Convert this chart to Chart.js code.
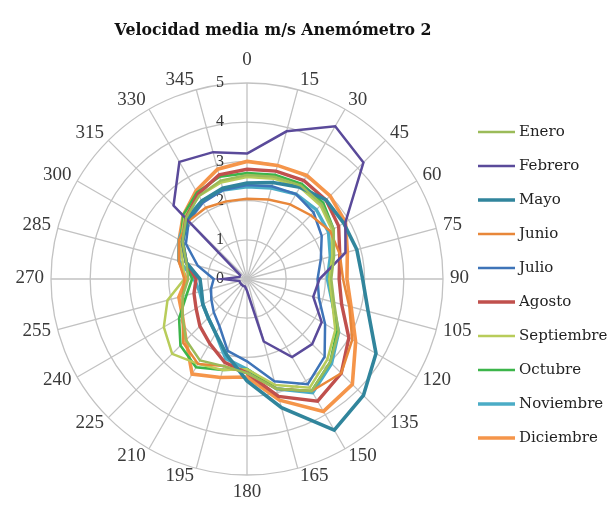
<!DOCTYPE html>
<html lang="es">
<head>
<meta charset="utf-8">
<title>Velocidad media m/s Anemómetro 2</title>
<script src="https://cdn.jsdelivr.net/npm/chart.js@4.4.1/dist/chart.umd.min.js"></script>
<style>
    html, body { margin: 0; padding: 0; background: #fff; }
    #wrap { width: 615px; height: 505px; }
</style>
</head>
<body>
<div id="wrap"><canvas id="chartRadar" width="615" height="505"></canvas></div>
<script>
// ── Data (m/s per wind direction) ─────────────────────────────────────────────
const TITLE      = 'Velocidad media m/s Anemómetro 2';
const DIRECTIONS = ['0','15','30','45','60','75','90','105','120','135','150','165',
                    '180','195','210','225','240','255','270','285','300','315','330','345'];
const TICKS      = [0, 1, 2, 3, 4, 5];

const MONTHS = ['Enero','Febrero','Mayo','Junio','Julio','Agosto','Septiembre','Octubre','Noviembre','Diciembre'];

const enero      = [2.65,2.7,2.75,2.7,2.55,2.3,2.15,2.3,2.7,3.0,3.3,2.9,2.4,2.3,2.4,2.2,1.9,1.7,1.5,1.6,1.9,2.2,2.45,2.6];
const febrero    = [3.2,3.9,4.5,4.2,2.9,2.6,1.85,1.75,2.2,2.35,2.3,1.65,0.3,0.2,0.2,0.2,0.2,0.2,0.6,0.2,0.2,2.65,3.45,3.35];
const mayo       = [2.45,2.55,2.7,2.85,2.85,2.9,2.95,3.2,3.8,4.2,4.45,3.4,2.6,2.0,1.6,1.4,1.3,1.2,1.2,1.6,1.9,2.15,2.3,2.4];
const junio      = [2.05,2.1,2.2,2.3,2.45,2.45,2.45,2.7,3.1,3.4,3.3,2.9,2.4,2.3,2.5,2.3,1.9,1.7,1.6,1.8,2.0,2.1,2.1,2.05];
const julio      = [2.4,2.45,2.5,2.4,2.2,1.95,1.8,1.9,2.3,2.8,3.1,2.7,2.1,1.9,1.4,1.2,1.05,0.95,0.85,1.3,1.8,2.1,2.25,2.35];
const agosto     = [2.8,2.85,2.9,2.85,2.7,2.45,2.35,2.5,3.0,3.4,3.6,3.1,2.4,2.2,1.9,1.7,1.5,1.4,1.3,1.6,1.9,2.2,2.5,2.75];
const septiembre = [2.6,2.65,2.7,2.65,2.5,2.25,2.1,2.25,2.6,2.9,3.2,2.8,2.3,2.4,2.5,2.7,2.45,2.1,1.6,1.7,1.95,2.25,2.45,2.55];
const octubre    = [2.7,2.75,2.8,2.75,2.55,2.25,2.1,2.25,2.65,3.0,3.3,2.9,2.3,2.4,2.6,2.4,2.0,1.6,1.4,1.6,1.95,2.3,2.55,2.7];
const noviembre  = [2.35,2.4,2.5,2.5,2.4,2.2,2.05,2.25,2.7,3.05,3.35,2.9,2.3,2.1,1.6,1.4,1.3,1.25,1.35,1.8,2.0,2.2,2.3,2.35];
const diciembre  = [3.0,3.0,3.05,3.0,2.9,2.65,2.55,2.75,3.2,3.8,3.9,3.2,2.5,2.6,2.8,2.2,1.9,1.8,1.55,1.8,2.0,2.3,2.6,2.9];

const SERIES = [enero, febrero, mayo, junio, julio, agosto, septiembre, octubre, noviembre, diciembre];

// ── Styles ────────────────────────────────────────────────────────────────────
const COLORS = ['#9bbb59','#5a4a9a','#31859c','#e8873a','#3e74b8',
                '#c0504d','#b8cc5a','#3cb54a','#4bacc6','#f5954a'];
const WIDTHS = [2.5, 2.5, 3.6, 2.5, 2.5, 3.4, 2.5, 2.6, 3.4, 3.6];
const SERIF  = '"DejaVu Serif", "Liberation Serif", serif';
const TIMES  = '"Liberation Serif", serif';

// ── Plugins: title, direction labels, value labels, legend ───────────────────
const titlePlugin = {
    id: 'titlePlugin',
    afterDraw(chart) {
        const ctx = chart.ctx;
        ctx.save();
        ctx.font = `bold 15.75px ${SERIF}`;
        ctx.fillStyle = '#111';
        ctx.textAlign = 'center';
        ctx.textBaseline = 'middle';
        ctx.fillText(TITLE, 273, 31);
        ctx.restore();
    }
};

// direction labels hug the outer ring beside each spoke end (Excel style)
const directionPlugin = {
    id: 'directionPlugin',
    afterDraw(chart) {
        const scale = chart.scales.r;
        const ctx = chart.ctx;
        ctx.save();
        ctx.font = `19px ${TIMES}`;
        ctx.fillStyle = '#3a3a3a';
        ctx.textBaseline = 'middle';
        DIRECTIONS.forEach((label, i) => {
            const p = scale.getPointPosition(i, scale.drawingArea);
            const a = scale.getIndexAngle(i);
            const s = Math.sin(a);
            const c = Math.cos(a);
            if (Math.abs(s) < 0.01) {
                ctx.textAlign = 'center';
                ctx.fillText(label, p.x, p.y + (c > 0 ? -23 : 17));
            } else {
                const gap = 2 + 5 * s * s;
                ctx.textAlign = s > 0 ? 'left' : 'right';
                ctx.fillText(label, p.x + Math.sign(s) * gap, p.y - c * 9 - 1);
            }
        });
        ctx.restore();
    }
};

const tickPlugin = {
    id: 'tickPlugin',
    beforeDatasetsDraw(chart) {
        const scale = chart.scales.r;
        const ctx = chart.ctx;
        ctx.save();
        ctx.font = `16px ${TIMES}`;
        ctx.fillStyle = '#333';
        ctx.textAlign = 'center';
        ctx.textBaseline = 'middle';
        TICKS.forEach(v => {
            const d = scale.getDistanceFromCenterForValue(v);
            ctx.fillText(String(v), scale.xCenter - 27, scale.yCenter - d);
        });
        ctx.restore();
    }
};

const legendPlugin = {
    id: 'legendPlugin',
    afterDraw(chart) {
        const ctx = chart.ctx;
        ctx.save();
        ctx.font = `15px ${SERIF}`;
        ctx.textBaseline = 'middle';
        chart.data.datasets.forEach((ds, i) => {
            const y = 132 + i * 34;
            ctx.strokeStyle = ds.borderColor;
            ctx.lineWidth = ds.borderWidth;
            ctx.beginPath();
            ctx.moveTo(478, y);
            ctx.lineTo(515, y);
            ctx.stroke();
            ctx.fillStyle = '#222';
            ctx.fillText(ds.label, 519, y);
        });
        ctx.restore();
    }
};

// ── Chart ─────────────────────────────────────────────────────────────────────
const datasets = SERIES.map((values, i) => ({
    label:           MONTHS[i],
    data:            values,
    borderColor:     COLORS[i],
    backgroundColor: COLORS[i],
    borderWidth:     WIDTHS[i],
    fill:            false,
    tension:         0,
    pointRadius:     0,
    pointHoverRadius: 0,
}));

new Chart(document.getElementById('chartRadar'), {
    type: 'radar',
    data: { labels: DIRECTIONS, datasets },
    options: {
        responsive: false,
        animation: false,
        layout: { padding: { top: 83, left: 51, right: 172, bottom: 30 } },
        plugins: {
            legend:  { display: false },
            title:   { display: false },
            tooltip: { enabled: false },
        },
        scales: {
            r: {
                min: 0,
                max: 5,
                ticks: { display: false, stepSize: 1 },
                grid: { circular: true, color: '#c2c2c2', lineWidth: 1.3 },
                angleLines: { color: '#c2c2c2', lineWidth: 1.3 },
                pointLabels: { display: false },
            },
        },
    },
    plugins: [titlePlugin, directionPlugin, tickPlugin, legendPlugin],
});
</script>
</body>
</html>
